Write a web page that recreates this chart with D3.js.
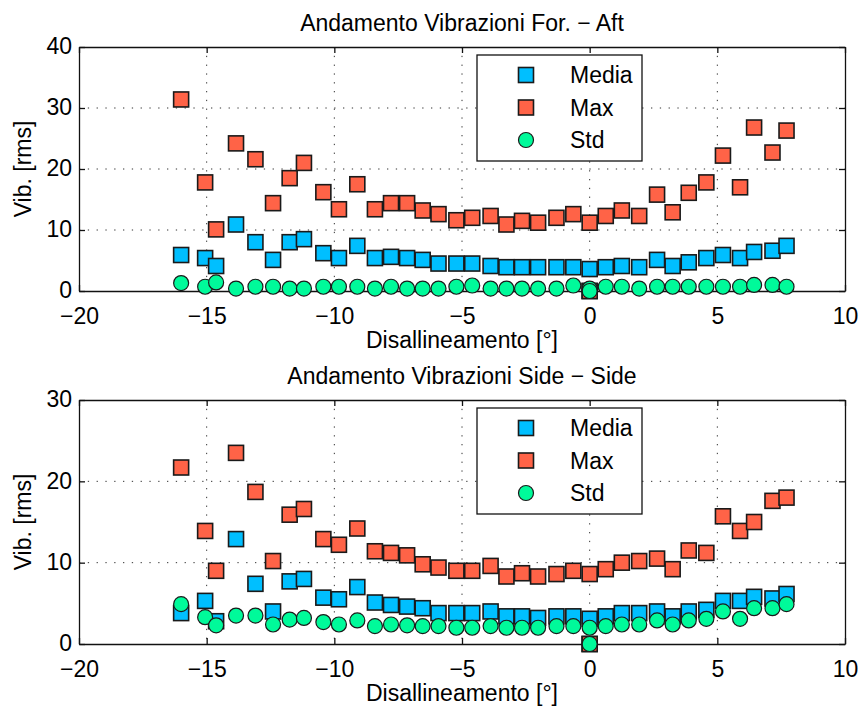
<!DOCTYPE html>
<html>
<head>
<meta charset="utf-8">
<script src="https://cdn.jsdelivr.net/npm/d3@7"></script>
<style>
  html, body { margin: 0; padding: 0; background: #fff; }
  svg { display: block; font-family: "Liberation Sans", Arial, sans-serif; }
</style>
</head>
<body>
<svg id="chart" width="861" height="707"></svg>
<script>
// Misalignment angle of each test run (degrees); the last run is the zero reference
const disallineamento = [-16, -15.06, -14.63, -13.85, -13.09, -12.4, -11.75, -11.19, -10.43, -9.82,
  -9.1, -8.41, -7.78, -7.15, -6.54, -5.92, -5.22, -4.6, -3.88, -3.26, -2.65, -2.02, -1.3, -0.64,
  0, 0.63, 1.26, 1.94, 2.64, 3.25, 3.88, 4.57, 5.22, 5.89, 6.44, 7.16, 7.71, 0];

// Fore-aft vibration [rms]
const forMedia = [5.9, 5.4, 4.1, 10.9, 8.0, 5.1, 8.0, 8.5, 6.2, 5.4, 7.4, 5.4, 5.6, 5.4, 5.1, 4.5, 4.5,
  4.5, 4.1, 3.9, 3.9, 3.9, 3.9, 3.9, 3.6, 3.9, 4.1, 3.9, 5.1, 4.1, 4.7, 5.4, 5.9, 5.4, 6.4, 6.6, 7.4, 0];
const forMax = [31.4, 17.8, 10.1, 24.2, 21.6, 14.4, 18.5, 21.0, 16.2, 13.4, 17.5, 13.4, 14.4, 14.4, 13.2,
  12.6, 11.6, 12.0, 12.3, 10.9, 11.5, 11.2, 12.0, 12.6, 11.2, 12.3, 13.2, 12.3, 15.8, 12.9, 16.1, 17.8,
  22.2, 17.0, 26.8, 22.7, 26.3, 0];
const forStd = [1.3, 0.7, 1.4, 0.4, 0.7, 0.7, 0.4, 0.4, 0.7, 0.7, 0.7, 0.4, 0.7, 0.4, 0.4, 0.4, 0.7, 0.9,
  0.4, 0.4, 0.4, 0.4, 0.4, 0.9, 0.4, 0.7, 0.7, 0.4, 0.7, 0.7, 0.7, 0.7, 0.7, 0.7, 1.0, 1.0, 0.7, 0];

// Side-side vibration [rms]
const sideMedia = [3.8, 5.3, 2.8, 12.9, 7.4, 4.0, 7.7, 8.0, 5.7, 5.5, 7.0, 5.1, 4.8, 4.6, 4.4, 3.8, 3.8,
  3.8, 4.0, 3.4, 3.4, 3.2, 3.4, 3.4, 3.1, 3.4, 3.8, 3.8, 4.0, 3.4, 4.0, 4.2, 5.3, 5.3, 5.8, 5.6, 6.15, 0];
const sideMax = [21.7, 13.9, 9.0, 23.5, 18.7, 10.2, 15.9, 16.6, 12.9, 12.2, 14.2, 11.4, 11.2, 10.9, 9.8,
  9.4, 9.0, 9.0, 9.6, 8.3, 8.7, 8.3, 8.6, 9.0, 8.6, 9.2, 10.0, 10.2, 10.5, 9.2, 11.5, 11.2, 15.7, 13.9,
  15.0, 17.6, 18.0, 0];
const sideStd = [4.9, 3.3, 2.3, 3.5, 3.5, 2.4, 3.0, 3.2, 2.7, 2.4, 2.9, 2.2, 2.4, 2.3, 2.2, 2.2, 2.0, 2.0,
  2.2, 2.0, 2.0, 2.0, 2.2, 2.2, 2.0, 2.2, 2.4, 2.4, 2.9, 2.4, 2.9, 3.1, 4.0, 3.1, 4.4, 4.4, 4.9, 0];

const xTicks = [-20, -15, -10, -5, 0, 5, 10];
const forYTicks = [0, 10, 20, 30, 40];
const sideYTicks = [0, 10, 20, 30];
const seriesNames = ["Media", "Max", "Std"];
const seriesColors = ["#00bfff", "#ff6347", "#00fa9a"];
const seriesShapes = ["square", "square", "circle"];

const svg = d3.select("#chart");
const left = 79, right = 845;
const FS = 23;
const fmt = v => (v < 0 ? "\u2212" + Math.abs(v) : String(v));

function marker(g, shape, color, cx, cy) {
  if (shape === "square") {
    g.append("rect").attr("x", cx - 7.5).attr("y", cy - 7.5).attr("width", 15).attr("height", 15)
      .attr("fill", color).attr("stroke", "#1a1a1a").attr("stroke-width", 1.6);
  } else {
    g.append("circle").attr("cx", cx).attr("cy", cy).attr("r", 7.5)
      .attr("fill", color).attr("stroke", "#1a1a1a").attr("stroke-width", 1.2);
  }
}

function panel(cfg) {
  const x = d3.scaleLinear().domain([-20, 10]).range([left, right]);
  const y = d3.scaleLinear().domain([0, cfg.yMax]).range([cfg.bottom, cfg.top]);
  const g = svg.append("g");

  // dotted grid
  g.append("g").selectAll("line").data(xTicks.slice(1, -1)).join("line")
    .attr("x1", d => x(d)).attr("x2", d => x(d)).attr("y1", cfg.top).attr("y2", cfg.bottom)
    .attr("stroke", "#333").attr("stroke-width", 1).attr("stroke-dasharray", "1.3,7.5");
  g.append("g").selectAll("line").data(cfg.yTicks.slice(1, -1)).join("line")
    .attr("y1", d => y(d)).attr("y2", d => y(d)).attr("x1", left).attr("x2", right)
    .attr("stroke", "#333").attr("stroke-width", 1).attr("stroke-dasharray", "1.3,7.5");

  // axes with inward ticks on all four sides
  const ax = (gen, tr) => g.append("g").attr("transform", tr).call(gen)
    .call(s => s.select(".domain").attr("stroke", "#111").attr("stroke-width", 1.3))
    .call(s => s.selectAll(".tick line").attr("stroke", "#111").attr("stroke-width", 1.3));
  const bottomAx = ax(d3.axisBottom(x).tickValues(xTicks).tickSizeInner(-6).tickSizeOuter(0).tickFormat(fmt),
    `translate(0,${cfg.bottom})`);
  bottomAx.selectAll(".tick text").attr("font-size", FS).attr("font-family", "Liberation Sans, Arial")
    .attr("fill", "#000").attr("y", 33).attr("dy", 0);
  ax(d3.axisTop(x).tickValues(xTicks).tickSizeInner(-6).tickSizeOuter(0).tickFormat(""),
    `translate(0,${cfg.top})`);
  const leftAx = ax(d3.axisLeft(y).tickValues(cfg.yTicks).tickSizeInner(-6).tickSizeOuter(0),
    `translate(${left},0)`);
  leftAx.selectAll(".tick text").attr("font-size", FS).attr("font-family", "Liberation Sans, Arial")
    .attr("fill", "#000").attr("x", -7).attr("dy", "0.3em");
  ax(d3.axisRight(y).tickValues(cfg.yTicks).tickSizeInner(-6).tickSizeOuter(0).tickFormat(""),
    `translate(${right},0)`);

  // series markers: Media, Max, then Std on top
  cfg.series.forEach((vals, i) => {
    const sg = g.append("g");
    vals.forEach((v, j) => marker(sg, seriesShapes[i], seriesColors[i], x(disallineamento[j]), y(v)));
  });

  // titles
  g.append("text").attr("x", (left + right) / 2).attr("y", cfg.top - 16).attr("text-anchor", "middle")
    .attr("font-size", FS).text(cfg.title);
  g.append("text").attr("x", (left + right) / 2).attr("y", cfg.bottom + 57).attr("text-anchor", "middle")
    .attr("font-size", FS).text("Disallineamento [°]");
  g.append("text").attr("transform", `translate(31,${(cfg.top + cfg.bottom) / 2}) rotate(-90)`)
    .attr("text-anchor", "middle").attr("font-size", FS).text("Vib. [rms]");

  // legend
  const lg = g.append("g").attr("transform", `translate(477,${cfg.top + 8})`);
  lg.append("rect").attr("width", 165).attr("height", 106).attr("fill", "#fff")
    .attr("stroke", "#111").attr("stroke-width", 1.3);
  seriesNames.forEach((n, i) => {
    const cy = 20 + i * 32.5;
    marker(lg, seriesShapes[i], seriesColors[i], 49, cy);
    lg.append("text").attr("x", 93).attr("y", cy + 8).attr("font-size", FS).text(n);
  });
}

panel({ title: "Andamento Vibrazioni For. \u2212 Aft", top: 47, bottom: 291, yMax: 40, yTicks: forYTicks,
  series: [forMedia, forMax, forStd] });
panel({ title: "Andamento Vibrazioni Side \u2212 Side", top: 400, bottom: 644, yMax: 30, yTicks: sideYTicks,
  series: [sideMedia, sideMax, sideStd] });
</script>
</body>
</html>
